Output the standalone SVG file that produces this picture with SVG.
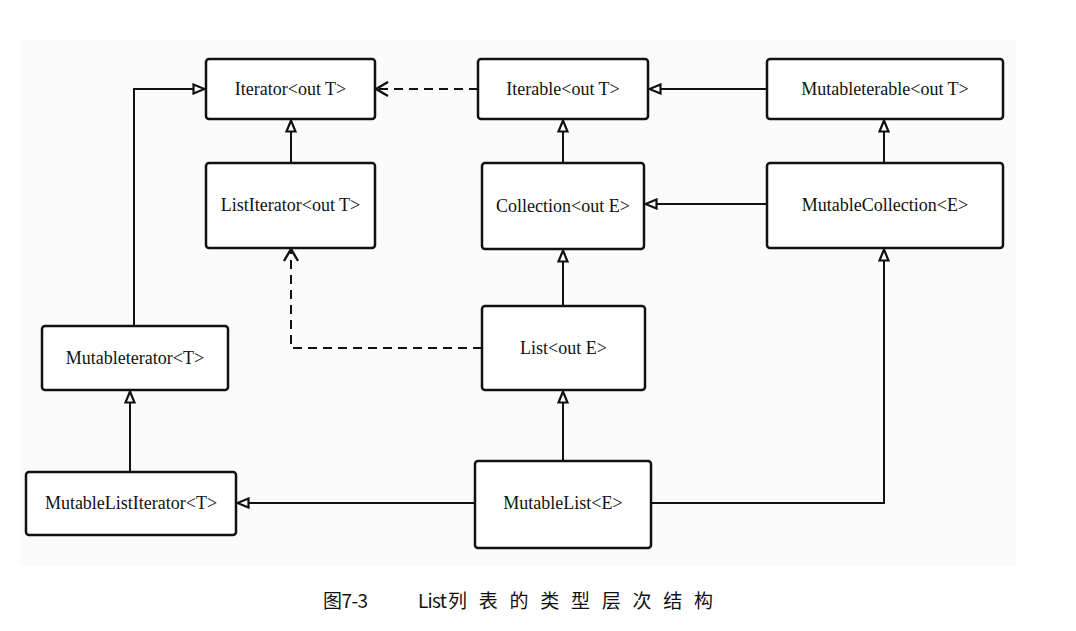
<svg xmlns="http://www.w3.org/2000/svg" width="1076" height="631" viewBox="0 0 1076 631">
<style>
.box{fill:#fff;stroke:#111;stroke-width:2.5}
.lbl{font-family:"Liberation Serif","Times New Roman",serif;font-size:18px;fill:#111;text-anchor:middle}
.ln{fill:none;stroke:#111;stroke-width:2}
.dash{fill:none;stroke:#111;stroke-width:2;stroke-dasharray:9,6}
.cap{font-family:"Noto Sans CJK SC","Noto Sans",sans-serif;font-size:19px;fill:#111}
</style>
<defs>
<marker id="tri" viewBox="0 0 14 12" refX="14" refY="6" markerWidth="14" markerHeight="12" markerUnits="userSpaceOnUse" orient="auto">
<path d="M1.5,1.5 L12.5,6 L1.5,10.5 Z" fill="#fff" stroke="#111" stroke-width="2.2"/>
</marker>
<marker id="open" viewBox="0 0 14 16" refX="13" refY="8" markerWidth="14" markerHeight="16" markerUnits="userSpaceOnUse" orient="auto">
<path d="M1,1 L13,8 L1,15" fill="none" stroke="#111" stroke-width="2.4"/>
</marker>
</defs>
<rect x="0" y="0" width="1076" height="631" fill="#fff"/>
<rect x="20" y="40" width="996" height="526" fill="#fbfbfb"/>
<g id="connectors">
<path class="ln" d="M134,326 V89 H206" marker-end="url(#tri)"/>
<path class="ln" d="M291,163 V119" marker-end="url(#tri)"/>
<path class="dash" d="M478,89 H376" marker-end="url(#open)"/>
<path class="ln" d="M767,89 H648" marker-end="url(#tri)"/>
<path class="ln" d="M563,163 V119" marker-end="url(#tri)"/>
<path class="ln" d="M884,163 V119" marker-end="url(#tri)"/>
<path class="ln" d="M767,204 H644" marker-end="url(#tri)"/>
<path class="ln" d="M563,306 V249" marker-end="url(#tri)"/>
<path class="dash" d="M482,348 H291 V249" marker-end="url(#open)"/>
<path class="ln" d="M563,461 V390" marker-end="url(#tri)"/>
<path class="ln" d="M651,503 H884 V248" marker-end="url(#tri)"/>
<path class="ln" d="M475,503 H236" marker-end="url(#tri)"/>
<path class="ln" d="M130,472 V390" marker-end="url(#tri)"/>
</g>
<g id="iterator"><rect class="box" x="206" y="59" width="169" height="60" rx="3"/><text class="lbl" x="290.5" y="95">Iterator&lt;out T&gt;</text></g>
<g id="iterable"><rect class="box" x="478" y="59" width="170" height="60" rx="3"/><text class="lbl" x="563" y="95">Iterable&lt;out T&gt;</text></g>
<g id="mutableiterable"><rect class="box" x="767" y="59" width="236" height="60" rx="3"/><text class="lbl" x="885" y="95">Mutableterable&lt;out T&gt;</text></g>
<g id="listiterator"><rect class="box" x="206" y="163" width="169" height="85" rx="3"/><text class="lbl" x="290.5" y="211">ListIterator&lt;out T&gt;</text></g>
<g id="collection"><rect class="box" x="482" y="163" width="162" height="86" rx="3"/><text class="lbl" x="563" y="212">Collection&lt;out E&gt;</text></g>
<g id="mutablecollection"><rect class="box" x="767" y="163" width="236" height="85" rx="3"/><text class="lbl" x="885" y="211">MutableCollection&lt;E&gt;</text></g>
<g id="mutableiterator"><rect class="box" x="42" y="326" width="186" height="64" rx="3"/><text class="lbl" x="135" y="364">Mutableterator&lt;T&gt;</text></g>
<g id="list"><rect class="box" x="482" y="306" width="163" height="84" rx="3"/><text class="lbl" x="563.5" y="354">List&lt;out E&gt;</text></g>
<g id="mutablelistiterator"><rect class="box" x="26" y="472" width="210" height="63" rx="3"/><text class="lbl" x="131" y="509">MutableListIterator&lt;T&gt;</text></g>
<g id="mutablelist"><rect class="box" x="475" y="461" width="176" height="87" rx="3"/><text class="lbl" x="563" y="509">MutableList&lt;E&gt;</text></g>
<text class="cap" y="608"><tspan x="323" textLength="45" lengthAdjust="spacing">图7-3</tspan><tspan x="418" textLength="29" lengthAdjust="spacing">List</tspan><tspan x="448" textLength="265" lengthAdjust="spacing">列表的类型层次结构</tspan></text>
</svg>
